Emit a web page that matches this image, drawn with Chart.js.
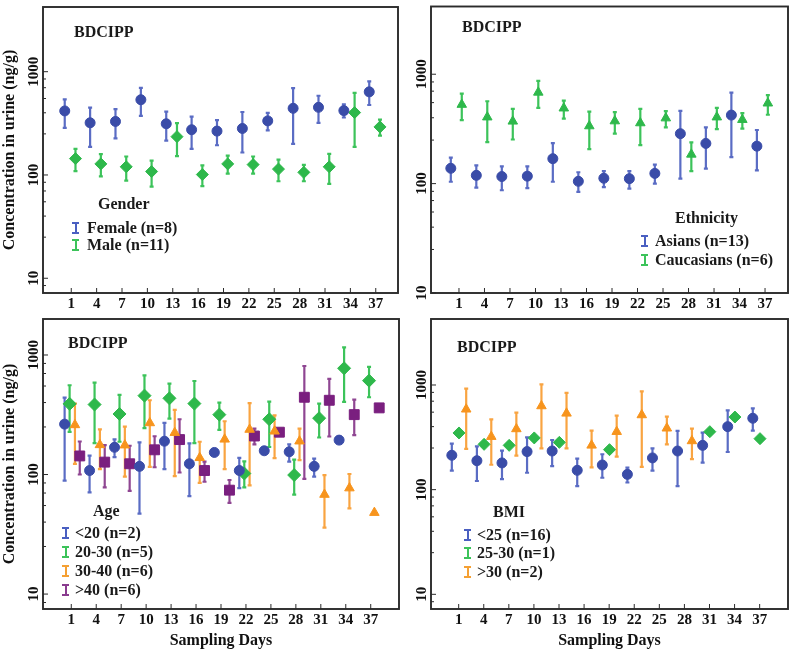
<!DOCTYPE html>
<html>
<head>
<meta charset="utf-8">
<script src="https://cdn.jsdelivr.net/npm/chart.js@4"></script>
<style>
body { margin: 0; background: #fff; overflow: hidden; }
#wrap { position: relative; width: 800px; height: 661px; }
canvas { position: absolute; left: 0; top: 0; }
.t { position: absolute; font: bold 16px "Liberation Serif", serif; color: #1a1a1a; white-space: nowrap; line-height: 18px; }
.sym { position: absolute; width: 7px; height: 12px; box-sizing: border-box;
  border-top: 2px solid; border-bottom: 2px solid;
  background: linear-gradient(currentColor, currentColor) center / 2px 100% no-repeat; }
</style>
</head>
<body>
<div id="wrap">
  <canvas id="c1" width="800" height="661"></canvas>
  <canvas id="c2" width="800" height="661"></canvas>
  <canvas id="c3" width="800" height="661"></canvas>
  <canvas id="c4" width="800" height="661"></canvas>

  <div class="t" style="left:74px;top:23px">BDCIPP</div>
  <div class="t" style="left:98px;top:195px">Gender</div>
  <div class="sym" style="left:72px;top:222px;color:#4a5fc1"></div>
  <div class="t" style="left:87px;top:219px">Female (n=8)</div>
  <div class="sym" style="left:72px;top:239px;color:#3cc35a"></div>
  <div class="t" style="left:87px;top:236px">Male (n=11)</div>

  <div class="t" style="left:462px;top:18px">BDCIPP</div>
  <div class="t" style="left:675px;top:209px">Ethnicity</div>
  <div class="sym" style="left:641px;top:235px;color:#4a5fc1"></div>
  <div class="t" style="left:655px;top:232px">Asians (n=13)</div>
  <div class="sym" style="left:641px;top:254px;color:#3cc35a"></div>
  <div class="t" style="left:655px;top:251px">Caucasians (n=6)</div>

  <div class="t" style="left:68px;top:334px">BDCIPP</div>
  <div class="t" style="left:93px;top:502px">Age</div>
  <div class="sym" style="left:62px;top:527px;color:#4a5fc1"></div>
  <div class="t" style="left:75px;top:524px">&lt;20 (n=2)</div>
  <div class="sym" style="left:62px;top:546px;color:#3cc35a"></div>
  <div class="t" style="left:75px;top:543px">20-30 (n=5)</div>
  <div class="sym" style="left:62px;top:565px;color:#f5a033"></div>
  <div class="t" style="left:75px;top:562px">30-40 (n=6)</div>
  <div class="sym" style="left:62px;top:584px;color:#8a3c8f"></div>
  <div class="t" style="left:75px;top:581px">&gt;40 (n=6)</div>

  <div class="t" style="left:457px;top:338px">BDCIPP</div>
  <div class="t" style="left:493px;top:503px">BMI</div>
  <div class="sym" style="left:464px;top:529px;color:#4a5fc1"></div>
  <div class="t" style="left:477px;top:526px">&lt;25 (n=16)</div>
  <div class="sym" style="left:464px;top:547px;color:#3cc35a"></div>
  <div class="t" style="left:477px;top:544px">25-30 (n=1)</div>
  <div class="sym" style="left:464px;top:566px;color:#f5a033"></div>
  <div class="t" style="left:477px;top:563px">&gt;30 (n=2)</div>
</div>
<script>
const days = [1, 4, 7, 10, 13, 16, 19, 22, 25, 28, 31, 34, 37];
const yMajor = [10, 100, 1000];
const yMinorSteps = [2.5, 4, 5.5, 7, 8.5];

// Gender
const femaleMean = [417, 320, 330, 535, 313, 274, 266, 282, 334, 442, 452, 420, 638];
const femaleHigh = [540, 449, 435, 697, 410, 367, 339, 407, 399, 692, 585, 483, 807];
const femaleLow  = [286, 187, 226, 373, 215, 179, 194, 165, 270, 200, 320, 360, 476];
const maleMean = [144, 128, 120, 108, 235, 101, 128, 126, 114, 106, 120, 402, 292];
const maleHigh = [179, 159, 151, 138, 318, 124, 154, 151, 141, 125, 160, 625, 344];
const maleLow  = [109, 97, 88, 77, 152, 78, 103, 103, 87, 87, 82, 187, 240];

// Ethnicity
const asianMean = [138, 119, 116, 117, 169, 105, 112, 111, 124, 286, 233, 423, 220];
const asianHigh = [173, 147, 144, 144, 234, 127, 130, 130, 149, 463, 327, 678, 309];
const asianLow  = [104, 92, 87, 91, 104, 84, 93, 90, 100, 111, 137, 175, 132];
const caucMean = [528, 405, 371, 682, 489, 336, 373, 358, 397, 185, 405, 384, 543];
const caucHigh = [664, 566, 482, 871, 574, 456, 450, 482, 459, 238, 492, 441, 645];
const caucLow  = [381, 239, 253, 492, 392, 207, 286, 225, 327, 130, 315, 318, 426];

// Age
const u20Mean = [264, 108, 169, 117, 190, 123, 153, 108, 158, 155, 117, 194, null];
const u20High = [440, 144, 197, 186, 270, 182, null, 138, null, 179, 136, null, null];
const u20Low  = [89, 71, 140, 47, 111, 66, null, 77, null, 128, 96, null, null];
const a2030Mean = [390, 385, 321, 457, 434, 392, 317, 102, 290, 99, 296, 774, 610];
const a2030High = [558, 587, 463, 676, 576, 606, 400, 129, 407, 133, 392, 1159, 794];
const a2030Low  = [227, 183, 188, 244, 294, 183, 236, 78, 170, 68, 204, 405, 443];
const a3040Mean = [260, 177, 176, 270, 224, 138, 197, 238, 230, 190, 68, 77, 48];
const a3040High = [392, 239, 252, 418, 347, 188, 279, 395, 313, 242, 99, 101, null];
const a3040Low  = [123, 111, 96, 116, 97, 85, 111, 81, 137, 132, 36, 52, null];
const o40Mean = [143, 127, 123, 161, 196, 108, 74, 210, 226, 443, 418, 317, 361];
const o40High = [189, 176, 174, 209, 290, 128, 90, 242, null, 809, 630, 424, null];
const o40Low  = [100, 78, 73, 115, 104, 87, 58, 179, null, 92, 208, 214, null];

// BMI
const u25Mean = [213, 189, 180, 231, 234, 153, 172, 140, 201, 234, 265, 400, 481];
const u25High = [275, 259, 236, 316, 298, 198, 218, 162, 248, 364, 351, 573, 598];
const u25Low  = [152, 121, 126, 145, 168, 108, 130, 117, 152, 108, 181, 229, 366];
const b2530Mean = [348, 271, 265, 312, 283, null, 241, null, null, null, 358, 494, 307];
const o30Mean = [586, 321, 380, 630, 536, 265, 358, 517, 386, 292, null, null, null];
const o30High = [923, 470, 544, 1014, 839, 366, 509, 869, 498, 383, null, null, null];
const o30Low  = [245, 173, 211, 248, 248, 163, 207, 165, 271, 196, null, null, null];

const BLUE = ['#3a4ca8', '#5a6cc4'];
const GREEN = ['#2eb84b', '#3cc35a'];
const ORANGE = ['#f7941d', '#f9a441'];
const PURPLE = ['#7a1f7f', '#8f4692'];

const tickFont = { family: 'Liberation Serif', size: 15, weight: 'bold' };
const titleFont = { family: 'Liberation Serif', size: 16, weight: 'bold' };

function series(means, highs, lows, offset, style, radius, colors) {
  const data = [];
  days.forEach((d, i) => {
    if (means[i] == null) return;
    data.push({ x: d + offset, y: means[i], hi: highs ? highs[i] : null, lo: lows ? lows[i] : null });
  });
  return {
    data: data, pointStyle: style, pointRadius: radius,
    backgroundColor: colors[0], borderColor: colors[0], borderWidth: 1,
    barColor: colors[1]
  };
}

// error bars under the markers
const errorBars = {
  id: 'errorBars',
  beforeDatasetsDraw(chart) {
    const ctx = chart.ctx, xs = chart.scales.x, ys = chart.scales.y;
    ctx.save();
    chart.data.datasets.forEach(ds => {
      ctx.strokeStyle = ds.barColor;
      ctx.lineWidth = 2.2;
      ds.data.forEach(p => {
        if (p.hi == null) return;
        const x = xs.getPixelForValue(p.x);
        const y1 = ys.getPixelForValue(p.hi), y2 = ys.getPixelForValue(p.lo);
        ctx.beginPath();
        ctx.moveTo(x, y1); ctx.lineTo(x, y2);
        ctx.moveTo(x - 2, y1); ctx.lineTo(x + 2, y1);
        ctx.moveTo(x - 2, y2); ctx.lineTo(x + 2, y2);
        ctx.stroke();
      });
    });
    ctx.restore();
  }
};

// box frame with inward ticks
const frame = {
  id: 'frame',
  afterDraw(chart) {
    const ctx = chart.ctx, a = chart.chartArea;
    ctx.save();
    ctx.strokeStyle = '#2b2b2b';
    ctx.lineWidth = 1.9;
    ctx.strokeRect(a.left, a.top, a.right - a.left, a.bottom - a.top);
    ctx.lineWidth = 1;
    ctx.beginPath();
    chart.scales.y.ticks.forEach(t => {
      const y = chart.scales.y.getPixelForValue(t.value);
      ctx.moveTo(a.left, y); ctx.lineTo(a.left + (t.major ? 5 : 3), y);
    });
    chart.scales.x.ticks.forEach(t => {
      const x = chart.scales.x.getPixelForValue(t.value);
      ctx.moveTo(x, a.bottom); ctx.lineTo(x, a.bottom - 5);
    });
    ctx.stroke();
    ctx.restore();
  }
};

function panel(id, p) {
  const yTicks = [];
  yMajor.forEach(m => {
    yTicks.push({ value: m, major: true });
    yMinorSteps.forEach(s => yTicks.push({ value: m * s / 10, major: false }));
  });
  return new Chart(document.getElementById(id), {
    type: 'scatter',
    data: { datasets: p.datasets },
    options: {
      responsive: false,
      animation: false,
      layout: { padding: { left: 0, top: p.area.top, right: 800 - p.area.right, bottom: 661 - p.area.bottom - p.xH } },
      plugins: { legend: { display: false }, tooltip: { enabled: false } },
      scales: {
        x: {
          type: 'linear', min: p.xMin, max: p.xMax,
          grid: { display: false, drawTicks: false }, border: { display: false },
          afterBuildTicks: s => { s.ticks = days.map(v => ({ value: v })); },
          afterFit: s => { s.height = p.xH; },
          ticks: { font: tickFont, color: '#111', padding: 2, maxRotation: 0, autoSkip: false },
          title: { display: !!p.xTitle, text: 'Sampling Days', font: titleFont, color: '#111', padding: 0 }
        },
        y: {
          type: 'logarithmic', min: p.yMin, max: p.yMax,
          grid: { display: false, drawTicks: false }, border: { display: false },
          afterBuildTicks: s => { s.ticks = yTicks.filter(t => t.value >= p.yMin && t.value <= p.yMax); },
          afterFit: s => { s.width = p.area.left; },
          ticks: {
            font: tickFont, color: '#111', padding: -6, minRotation: 90, maxRotation: 90,
            crossAlign: 'center', autoSkip: false,
            callback: v => yMajor.includes(v) ? String(v) : ''
          },
          title: { display: !!p.yTitle, text: 'Concentration in urine (ng/g)', font: titleFont, color: '#111', padding: 0 }
        }
      }
    },
    plugins: [errorBars, frame]
  });
}

panel('c1', {
  area: { left: 43, top: 4, right: 398, bottom: 293 }, xH: 25, yTitle: true,
  xMin: -2.34, xMax: 39.63, yMin: 7.2, yMax: 4230,
  datasets: [
    series(femaleMean, femaleHigh, femaleLow, -0.77, 'circle', 5, BLUE),
    series(maleMean, maleHigh, maleLow, 0.5, 'rectRot', 6, GREEN)
  ]
});
panel('c2', {
  area: { left: 431, top: 3, right: 788, bottom: 293 }, xH: 25,
  xMin: -2.29, xMax: 39.7, yMin: 10, yMax: 4160,
  datasets: [
    series(asianMean, asianHigh, asianLow, -0.96, 'circle', 5, BLUE),
    series(caucMean, caucHigh, caucLow, 0.33, 'triangle', 5.5, GREEN)
  ]
});
panel('c3', {
  area: { left: 43, top: 319, right: 399, bottom: 609 }, xH: 41, yTitle: true, xTitle: true,
  xMin: -2.4, xMax: 40.4, yMin: 7.5, yMax: 2000,
  datasets: [
    series(u20Mean, u20High, u20Low, -0.8, 'circle', 5, BLUE),
    series(a2030Mean, a2030High, a2030Low, -0.2, 'rectRot', 6.5, GREEN),
    series(a3040Mean, a3040High, a3040Low, 0.44, 'triangle', 5.5, ORANGE),
    series(o40Mean, o40High, o40Low, 1.02, 'rect', 7, PURPLE)
  ]
});
panel('c4', {
  area: { left: 431, top: 319, right: 788, bottom: 609 }, xH: 41, xTitle: true,
  xMin: -2.31, xMax: 40.39, yMin: 7.24, yMax: 4270,
  datasets: [
    series(u25Mean, u25High, u25Low, -0.82, 'circle', 5, BLUE),
    series(b2530Mean, null, null, 0.04, 'rectRot', 6, GREEN),
    series(o30Mean, o30High, o30Low, 0.9, 'triangle', 5.5, ORANGE)
  ]
});
</script>
</body>
</html>
